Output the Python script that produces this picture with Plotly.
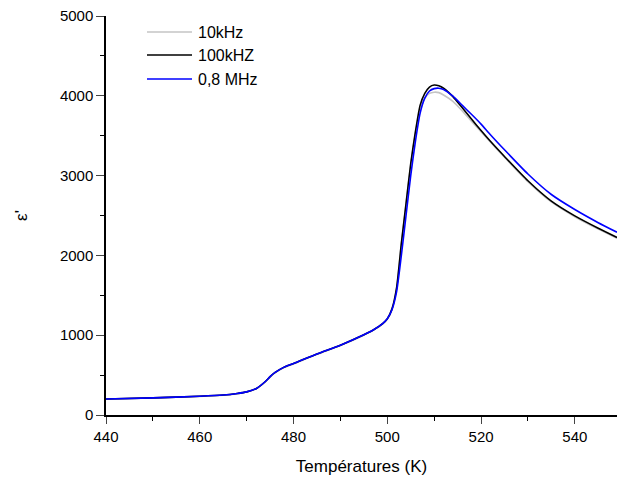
import plotly.graph_objects as go

temps = [440, 450, 460, 465, 468, 470, 472, 474, 475, 476, 478, 480, 485, 490, 495, 497, 499, 500, 501, 502, 503, 504, 505, 506, 507, 508, 509, 510, 511, 512, 514, 516, 518, 520, 522, 525, 530, 535, 540, 545, 549]

eps_10k = [198, 213, 233, 248, 268, 288, 328, 415, 475, 525, 595, 640, 760, 870, 1000, 1060, 1140, 1200, 1320, 1590, 2140, 2640, 3130, 3520, 3820, 3970, 4030, 4045, 4040, 4010, 3930, 3810, 3680, 3550, 3420, 3230, 2925, 2670, 2485, 2330, 2215]

eps_100k = [200, 215, 235, 250, 270, 290, 330, 420, 480, 530, 600, 645, 765, 875, 1005, 1065, 1145, 1205, 1330, 1600, 2150, 2650, 3150, 3550, 3880, 4030, 4110, 4135, 4125, 4095, 3990, 3850, 3705, 3565, 3430, 3240, 2935, 2680, 2495, 2340, 2225]

eps_08M = [200, 215, 235, 250, 270, 290, 330, 420, 480, 530, 600, 645, 765, 875, 1005, 1065, 1145, 1205, 1320, 1550, 2000, 2500, 3000, 3430, 3780, 3970, 4060, 4090, 4095, 4080, 3995, 3880, 3765, 3645, 3512, 3323, 3020, 2763, 2575, 2410, 2290]

series = [
    ("10kHz", eps_10k, "#c4c4c4"),
    ("100kHZ", eps_100k, "#000000"),
    ("0,8 MHz", eps_08M, "#0000ff"),
]

W, H = 617, 479
ML, MR, MT, MB = 106, 0, 16, 64
PW, PH = W - ML - MR, H - MT - MB

fig = go.Figure()
for name, vals, col in series:
    fig.add_trace(go.Scatter(x=temps, y=vals, mode="lines", name=name, showlegend=False,
                             line=dict(color=col, width=1.6, shape="spline", smoothing=0.6)))

font_family = "Arial, Liberation Sans, sans-serif"

# manual legend (pixel positions converted to paper coords)
legend_rows = [32, 55, 79]
shapes, annotations = [], []
for (name, vals, col), py in zip(series, legend_rows):
    yp = (H - MB - py) / PH
    shapes.append(dict(type="line", xref="paper", yref="paper",
                       x0=(147 - ML) / PW, x1=(192 - ML) / PW, y0=yp, y1=yp,
                       line=dict(color=col, width=1.6)))
    annotations.append(dict(xref="paper", yref="paper", x=(196 - ML) / PW, y=yp,
                            xanchor="left", yanchor="middle", showarrow=False,
                            text=name, font=dict(size=16, family=font_family, color="black")))

fig.update_layout(
    width=W, height=H,
    margin=dict(l=ML, r=MR, t=MT, b=MB),
    paper_bgcolor="white", plot_bgcolor="white",
    font=dict(family=font_family, size=15, color="black"),
    showlegend=False,
    shapes=shapes, annotations=annotations,
    xaxis=dict(range=[440, 549], dtick=20, tick0=440, ticks="outside", ticklen=7, tickwidth=1.3,
               showline=True, linecolor="black", linewidth=1.5, showgrid=False, zeroline=False,
               minor=dict(dtick=10, ticks="outside", ticklen=4, tickwidth=1.3, tickcolor="black"),
               title=dict(text="Températures (K)", font=dict(size=17), standoff=16),
               tickfont=dict(size=15)),
    yaxis=dict(range=[0, 5000], dtick=1000, ticks="outside", ticklen=8, tickwidth=1.3,
               showline=True, linecolor="black", linewidth=1.5, showgrid=False, zeroline=False,
               minor=dict(dtick=500, ticks="outside", ticklen=4, tickwidth=1.3, tickcolor="black"),
               title=dict(text="ε'", font=dict(size=17), standoff=28),
               tickfont=dict(size=15)),
)

fig.write_html("out.html", config={"displayModeBar": False},
               post_script="document.body.style.margin='0';document.body.style.overflow='hidden';")
